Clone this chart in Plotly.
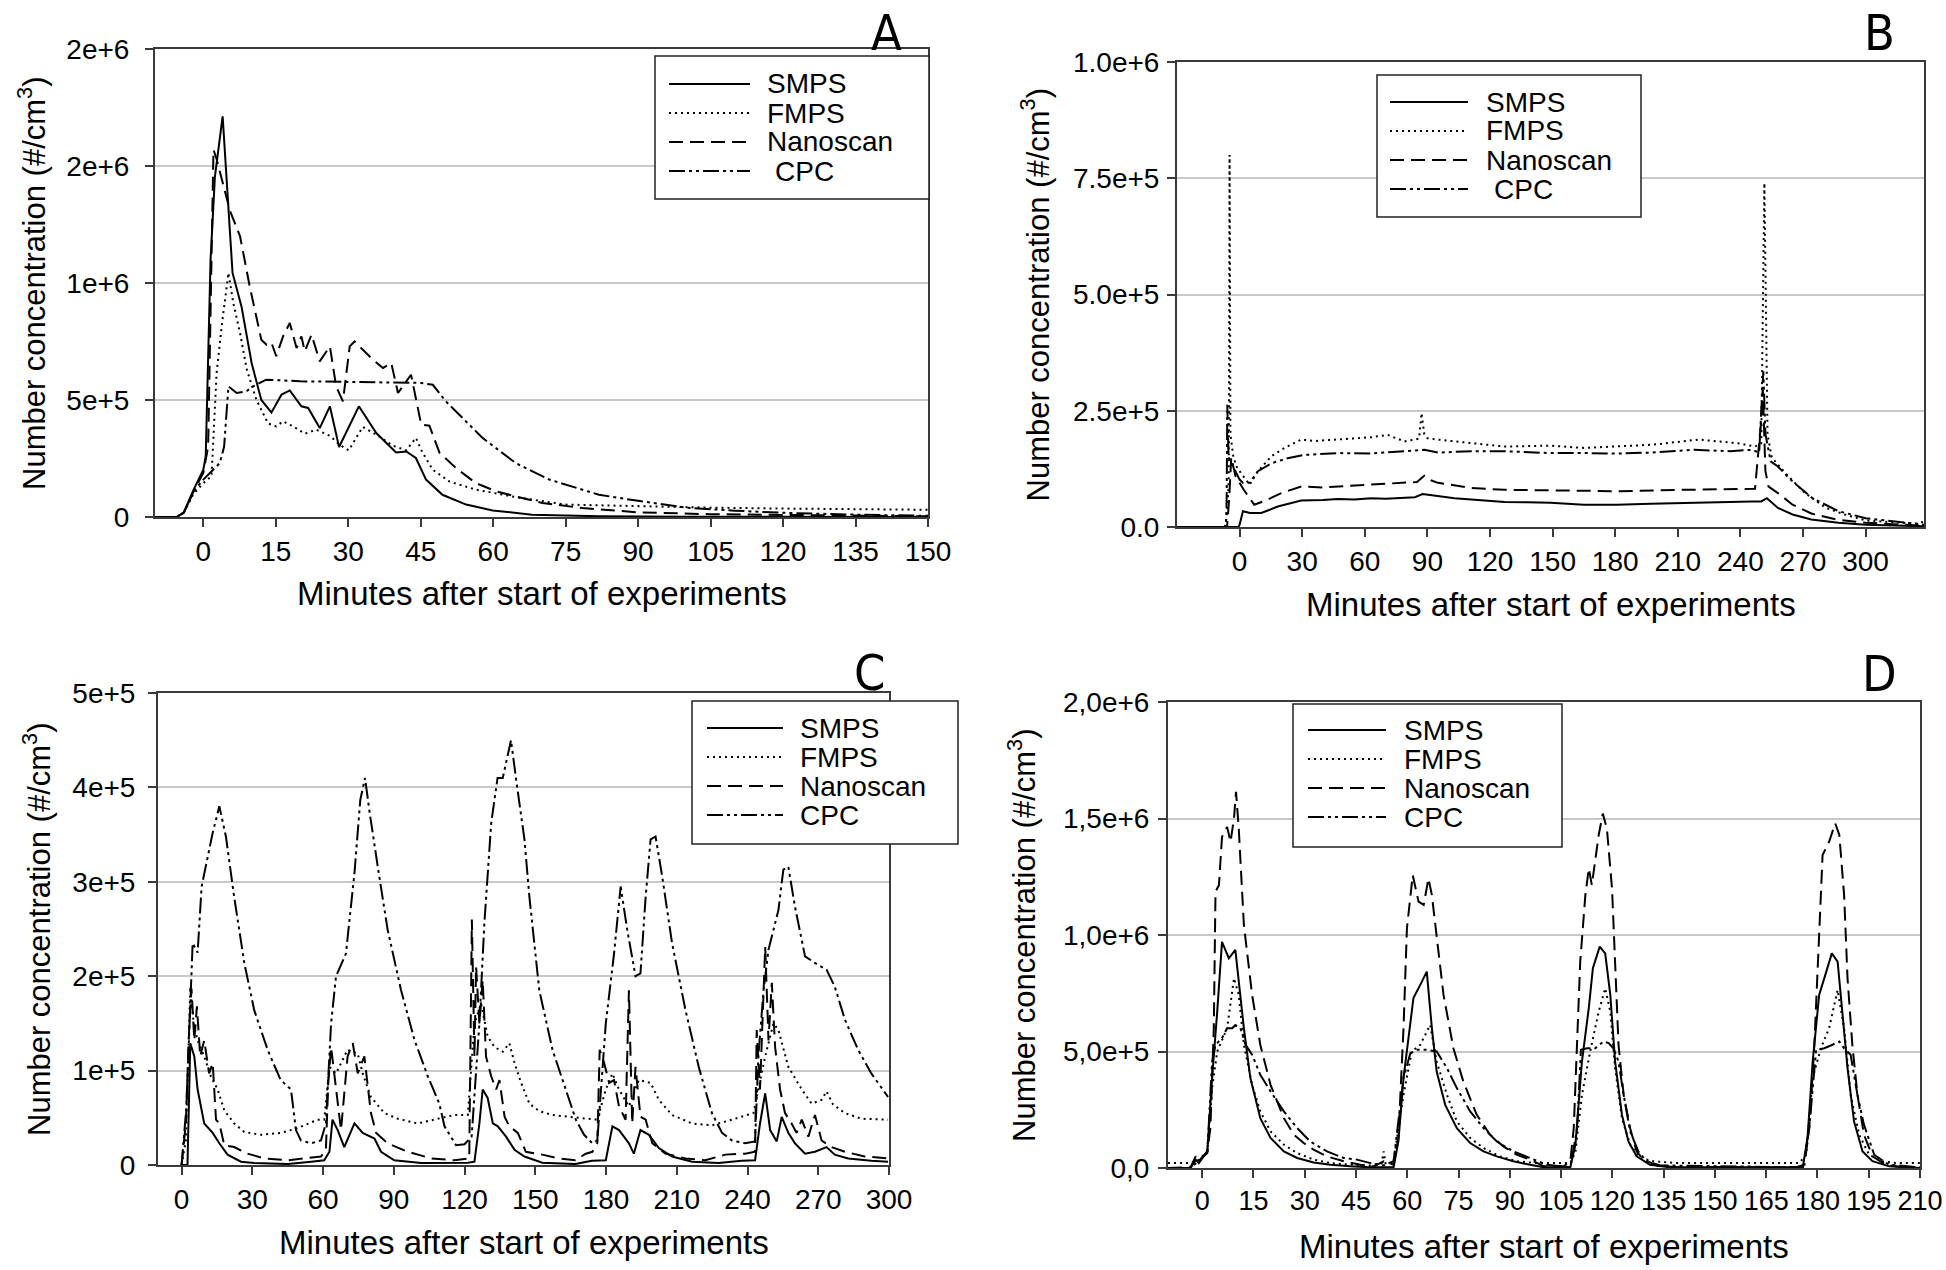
import plotly.graph_objects as go

W, H = 1946, 1270

# ---------------- DATA (concentrations in thousands of #/cm3) ----------------
# Panel A
A_SMPS_x = [-10, -5.5, -4.1, -2, 0, 0.5, 1.5, 2.4, 4.0, 6.05, 7.9, 10, 12, 14.1, 16.2, 17.9, 20.3, 21.7, 24.1, 26.2, 28.1, 32.2, 35.8, 39.9, 42, 44, 46.1, 49.5, 54.4, 59.9, 68, 82, 100, 120, 150]
A_SMPS_y = [0, 0, 17, 117, 202, 260, 1100, 1455, 1712, 1043, 900, 658, 500, 447, 523, 541, 473, 466, 380, 473, 299, 473, 359, 276, 280, 252, 160, 95, 53, 28, 10, 3, 1.5, 1, 0.5]
A_FMPS_x = [-10, -5.5, -4, -2, 0, 1.7, 2.75, 3.8, 5.2, 6.2, 7.6, 9, 11, 13.4, 15.1, 16.5, 18.6, 21, 23.4, 26.2, 28.2, 30.1, 33, 35.8, 39.2, 42, 44, 45.4, 47.5, 50.9, 56.4, 64.7, 75, 90, 105, 120, 135, 150]
A_FMPS_y = [0, 0, 20, 100, 145, 174, 615, 815, 1043, 915, 786, 630, 500, 400, 387, 409, 387, 356, 373, 347, 309, 285, 385, 352, 305, 285, 338, 274, 202, 152, 117, 85, 53, 45, 40, 36, 33, 31]
A_NANO_x = [-10, -5.5, -4, -2, 0, 1.0, 2.1, 2.75, 5.5, 7.6, 9.6, 12.0, 13.1, 14.1, 15.1, 16.5, 17.9, 19.3, 20.3, 21, 22.4, 24.1, 26.2, 27.5, 28.9, 30.3, 31.3, 33, 35.1, 37.2, 38.9, 40.3, 43, 45.1, 46.8, 48.9, 52.3, 56.4, 60.6, 64.7, 70.2, 78.5, 90, 105, 120, 150]
A_NANO_y = [0, 0, 20, 110, 188, 300, 1570, 1530, 1310, 1200, 986, 758, 736, 745, 687, 772, 829, 722, 772, 708, 779, 665, 729, 558, 494, 729, 750, 715, 672, 637, 658, 530, 608, 395, 390, 274, 209, 145, 110, 88, 60, 38, 20, 12, 8, 3]
A_CPC_x = [-10, -5.5, -4, -2, 0, 2, 3.4, 4.3, 5.2, 6.9, 8.9, 10.3, 13, 20, 30, 40, 45, 47.5, 50.2, 57.8, 64.7, 71.6, 81.9, 90, 100, 110, 120, 135, 150]
A_CPC_y = [0, 0, 20, 110, 160, 200, 230, 300, 558, 530, 537, 558, 587, 580, 578, 575, 573, 565, 494, 338, 230, 160, 95, 69, 40, 27, 18, 10, 5]

# Panel B
B_SMPS_x = [-30, -5, -0.5, 0, 1.6, 5, 10.4, 18.3, 29.5, 40, 47, 55, 63, 70, 79, 84, 87.7, 95, 103, 111, 119, 127, 138, 149, 165, 181, 197, 213, 229, 245.5, 250, 252.7, 258, 265, 274, 287, 300, 314, 328]
B_SMPS_y = [0, 0, 0, 5, 34, 30, 30, 44, 57, 58, 60, 59, 62, 61, 62, 64, 71, 66, 62, 59, 57, 54, 53, 52, 48, 48, 50, 52, 53, 55, 55, 62, 41, 27, 16, 9, 5, 3, 1.5]
B_FMPS_x = [-30, -7, -6, -5.2, -4.8, -4.4, -3, -1, 0, 4.8, 8.8, 15.2, 21.5, 29.5, 36, 47, 63, 71, 79, 86, 87.2, 88.5, 90, 95, 111, 127, 149, 165, 198, 220, 239, 247, 250, 251.5, 253, 255, 261.5, 271, 281, 290, 300, 318, 325, 328]
B_FMPS_y = [0, 0, 30, 100, 800, 200, 150, 125, 120, 91, 120, 152, 170, 188, 185, 188, 193, 198, 184, 190, 245, 200, 191, 188, 180, 173, 175, 170, 177, 188, 180, 173, 180, 740, 200, 150, 116, 73, 41, 27, 14, 9, 7, 12]
B_NANO_x = [-30, -6, -5, -4, -2, 0, 2, 7, 13, 20, 29.5, 40, 47, 63, 79, 85, 88.5, 92, 95, 111, 127, 149, 181, 213, 247, 250, 250.7, 252, 253.5, 258, 265, 274, 286, 300, 318, 328]
B_NANO_y = [0, 0, 60, 150, 110, 95, 80, 48, 58, 73, 87, 85, 87, 91, 95, 97, 110, 100, 95, 84, 80, 79, 77, 80, 82, 230, 300, 120, 87, 73, 48, 29, 16, 9, 5, 3]
B_CPC_x = [-30, -6.5, -6.2, -5.9, -5.3, -1.6, 0, 1.6, 4.8, 8.8, 15.2, 23, 31, 47, 63, 79, 88.5, 95, 111, 127, 149, 165, 181, 197, 218, 235, 245.5, 249, 251, 252, 254.5, 258, 264, 274.5, 287, 300, 318, 328]
B_CPC_y = [0, 0, 60, 263, 150, 116, 102, 95, 95, 120, 137, 148, 155, 159, 158, 163, 166, 160, 163, 163, 159, 159, 158, 160, 166, 163, 166, 160, 335, 200, 141, 130, 102, 62, 34, 19, 10, 5]

# Panel C
C_SMPS_x = [0, 2.5, 3.7, 5.4, 6.8, 9.6, 13.2, 16, 19.5, 25.2, 30.8, 45, 55, 60.5, 62.7, 64, 66.2, 69, 73.3, 76.8, 81.8, 84.6, 90.2, 101.6, 121.4, 124.2, 126.3, 127.7, 129.8, 132, 134.1, 137.6, 141.2, 145.4, 153, 160, 167, 174, 179.9, 182.7, 185.5, 187.6, 189.7, 191.8, 194.6, 198.2, 202.4, 208, 216.5, 227.7, 237.6, 243.2, 245.3, 247.5, 249.6, 252.4, 254.5, 257.3, 260.1, 264.4, 268.6, 273.5, 277, 282.7, 292.5, 299.6]
C_SMPS_y = [0, 0, 129, 115, 80, 44, 34, 23, 11, 3.5, 2, 1, 3.5, 5, 14, 48, 37, 19, 44, 34, 28, 14, 5, 2, 2.5, 3.5, 44, 80, 71, 44, 41, 30, 16, 9, 2.5, 2, 1, 4.5, 5, 41, 37, 30, 23, 12, 37, 32, 18, 9, 3.5, 2, 4.5, 5, 44, 76, 37, 25, 51, 34, 23, 12, 14, 19, 11, 7, 4.5, 3.5]
C_FMPS_x = [0, 1.8, 3.7, 5.1, 6.8, 9.6, 12.4, 15.3, 18.1, 22.3, 26.6, 33.7, 42.1, 49.2, 57.7, 60.5, 62.7, 65.5, 70.4, 74.7, 76.8, 80.3, 86, 91.7, 100.1, 108.6, 115.7, 121.4, 124.2, 127, 129.8, 132.7, 136.2, 139, 141.2, 144, 147.5, 151.7, 157.3, 164.4, 171.4, 176.3, 179.9, 182.7, 185.5, 189.7, 193.9, 198.9, 202.4, 208, 216.5, 224.9, 233.4, 242.5, 247.5, 251, 253.1, 257.3, 263, 267.2, 271.4, 273.5, 276.3, 281.3, 288.3, 299.6]
C_FMPS_y = [0, 26, 189, 150, 132, 115, 94, 80, 58, 44, 35, 32, 34, 39, 48, 48, 104, 97, 122, 118, 97, 72, 55, 49, 44, 49, 53, 53, 150, 171, 136, 125, 120, 129, 108, 87, 65, 57, 53, 51, 49, 48, 80, 97, 80, 62, 90, 87, 69, 53, 44, 42, 48, 55, 115, 150, 143, 104, 80, 65, 69, 78, 64, 55, 49, 48]
C_NANO_x = [0, 1.8, 3.3, 4.2, 5.4, 6.5, 7.9, 9.6, 11.7, 13.2, 14.6, 16, 18.1, 22.3, 28, 35, 45, 53.5, 59.1, 61.2, 62.2, 63.4, 65.5, 67.6, 70.4, 72.6, 74.7, 77.5, 80.3, 82.5, 87.4, 95.9, 105.8, 115.7, 122, 123.1, 124.2, 124.9, 126.3, 127.7, 129.1, 131.3, 133.4, 134.8, 137, 139, 142.6, 146, 153, 160, 167, 171.4, 174.2, 176.3, 177.3, 179.2, 181.3, 183.4, 185.5, 188.3, 189.7, 191.1, 192.5, 194.6, 196.8, 199.6, 205.2, 213.7, 222.1, 230.6, 239, 243.2, 243.9, 245.3, 247.5, 248.9, 250.3, 251.7, 253.8, 255.9, 258.7, 260.8, 263, 265.8, 268.6, 271.4, 275.6, 281.3, 289.7, 299.6]
C_NANO_y = [0, 44, 150, 187, 132, 168, 115, 132, 97, 108, 48, 44, 21, 19, 12, 7, 5, 7, 9, 16, 87, 125, 80, 37, 115, 129, 97, 115, 55, 34, 23, 14, 7, 5, 7, 260, 115, 210, 150, 196, 115, 94, 80, 90, 51, 41, 34, 14, 11, 7, 5, 12, 14, 23, 122, 108, 87, 90, 62, 48, 185, 44, 104, 51, 48, 23, 12, 7, 5, 11, 12, 14, 143, 80, 231, 132, 193, 125, 80, 55, 44, 34, 48, 30, 53, 26, 19, 14, 9, 7]
C_CPC_x = [0, 2, 4.7, 6.8, 8.5, 13.2, 16, 18.8, 22.3, 26.6, 30.8, 36.5, 42, 46.4, 48.5, 50.6, 54.9, 59.1, 61.2, 63.4, 65.5, 69.7, 73.3, 75.8, 77.8, 79.6, 83.2, 87.4, 93, 98.7, 104.4, 109.3, 111.5, 116.4, 120, 123, 126.3, 128.4, 131.3, 134, 136.2, 139.7, 141.9, 145.4, 147.5, 151.7, 157.3, 163, 167.2, 170.7, 174.2, 176.3, 179.9, 183.4, 186.2, 189, 192.5, 194.6, 196.8, 198.9, 201, 203.8, 208, 213.7, 219.3, 224.9, 229.2, 233.4, 239, 243.2, 244.6, 246.8, 248.9, 253.1, 255.2, 257.3, 260.1, 264.4, 268.6, 273.5, 277, 281.3, 286.9, 292.5, 299.6]
C_CPC_y = [0, 60, 235, 225, 295, 352, 380, 348, 284, 214, 164, 122, 90, 80, 37, 26, 23, 26, 44, 150, 200, 224, 309, 387, 410, 376, 316, 249, 186, 133, 94, 65, 41, 21, 22, 30, 150, 256, 362, 410, 410, 450, 408, 345, 284, 185, 122, 80, 48, 32, 23, 26, 150, 224, 295, 249, 200, 203, 284, 345, 348, 306, 235, 164, 104, 55, 34, 26, 23, 25, 115, 185, 228, 270, 313, 316, 274, 221, 214, 207, 189, 154, 122, 97, 72]

# Panel D
D_SMPS_x = [-10, -3.4, -1.9, -1, 1.5, 2.9, 4.4, 5.8, 7.8, 9.7, 12.2, 14.1, 17, 20, 23.9, 27.8, 32.6, 37.5, 43.3, 49.2, 56, 57.4, 58.9, 61.8, 63.8, 65.7, 67.2, 68.6, 71.1, 74.5, 78.4, 82.3, 86.2, 91, 95.9, 100, 107.7, 109.2, 111.1, 113.1, 114.3, 116.3, 117.9, 119.4, 120.8, 122.8, 124.7, 127.1, 131, 136.8, 175.7, 177.1, 178.6, 180.5, 182.3, 184.2, 185.9, 187.3, 188.8, 190.7, 193.2, 196.1, 201, 210]
D_SMPS_y = [0, 0, 36, 21, 71, 386, 671, 971, 900, 936, 600, 386, 214, 129, 71, 43, 24, 14, 7, 3, 3, 114, 386, 729, 786, 843, 600, 414, 271, 171, 107, 71, 50, 29, 14, 3, 3, 100, 457, 686, 857, 950, 921, 743, 457, 229, 114, 50, 14, 3, 3, 129, 457, 743, 829, 921, 886, 671, 429, 200, 71, 29, 7, 0]
D_FMPS_x = [-10, -3.4, -1.5, 1.5, 2.9, 4.4, 7.3, 9.3, 10.7, 12.2, 14.6, 17, 20, 23.9, 27.8, 32.6, 37.5, 43.3, 49.2, 52.5, 53.1, 53.7, 56, 58.9, 61.3, 63.8, 66.7, 68.6, 71.6, 74.5, 78.4, 82.3, 87.1, 92, 97.9, 107.7, 109.2, 111.1, 113.5, 116, 117.9, 119.4, 120.8, 122.8, 125.2, 128.1, 132, 138.8, 174.7, 176.7, 178.6, 181, 183.4, 185.9, 187.8, 189.7, 192.2, 195.1, 199, 202.9, 210]
D_FMPS_y = [21, 21, 29, 71, 343, 500, 600, 814, 743, 529, 357, 243, 157, 100, 64, 36, 21, 14, 11, 20, 71, 14, 29, 314, 500, 529, 614, 457, 314, 200, 129, 86, 50, 29, 21, 21, 71, 314, 500, 671, 771, 671, 429, 214, 100, 43, 29, 21, 21, 57, 386, 514, 600, 764, 600, 314, 143, 57, 29, 21, 21]
D_NANO_x = [-10, -3.4, -1.9, -1, 1.5, 2.4, 3.4, 3.9, 4.9, 5.8, 7.3, 8.3, 9.3, 9.9, 10.7, 12.2, 14.6, 17, 20, 23.9, 26.8, 29.7, 32.6, 36.5, 41.4, 46.3, 50.1, 53.1, 56, 57.4, 58.9, 59.9, 61.6, 63.3, 64.8, 66.2, 67.2, 68.6, 70.6, 73.5, 76.4, 80.3, 84.2, 88.1, 92, 95.9, 100, 105.8, 107.7, 108.7, 109.7, 110.6, 112.1, 113.1, 114, 116, 117.2, 118.4, 119.9, 120.8, 121.8, 123.3, 125.2, 127.1, 129.1, 133, 138.8, 158.2, 173.7, 176.2, 177.6, 179.1, 180.5, 181.5, 183.4, 185.2, 186.4, 187.8, 188.8, 190.2, 191.7, 193.6, 196.1, 200, 204.8, 210]
D_NANO_y = [0, 3, 50, 29, 71, 171, 600, 1186, 1214, 1421, 1464, 1400, 1500, 1614, 1457, 1043, 743, 529, 357, 214, 143, 107, 79, 50, 29, 14, 7, 29, 14, 129, 600, 1029, 1257, 1143, 1129, 1243, 1171, 986, 743, 514, 371, 229, 143, 93, 57, 36, 7, 7, 29, 171, 529, 886, 1171, 1286, 1214, 1429, 1521, 1457, 1200, 857, 529, 314, 171, 71, 36, 11, 3, 3, 3, 14, 171, 529, 1029, 1343, 1400, 1479, 1429, 1171, 814, 529, 314, 143, 50, 14, 3, 0]
D_CPC_x = [-10, -3.4, 1.5, 2.9, 3.9, 5.8, 7.3, 8.8, 9.7, 11.2, 12.7, 14.6, 17, 20, 23.9, 27.8, 31.6, 36.5, 41.4, 45.3, 49.2, 53.1, 56, 58.9, 60.9, 62.8, 65.7, 68.6, 71.6, 74.5, 78.4, 82.3, 86.2, 91, 95.9, 100.8, 107.7, 109.7, 110.8, 112.6, 115, 117.4, 118.9, 120.3, 121.8, 123.3, 125.2, 127.6, 130, 134, 175.7, 177.6, 179.6, 182, 184.4, 186.4, 187.8, 189.7, 191.7, 193.6, 196.6, 200.9, 210]
D_CPC_y = [0, 0, 64, 457, 529, 557, 600, 600, 614, 600, 529, 486, 400, 329, 243, 171, 114, 71, 43, 36, 21, 11, 29, 386, 493, 507, 507, 500, 429, 343, 243, 171, 114, 71, 43, 14, 3, 171, 507, 514, 514, 543, 536, 514, 457, 314, 157, 71, 29, 11, 3, 171, 507, 514, 529, 543, 514, 486, 314, 186, 57, 14, 3]

SERIES = ["SMPS", "FMPS", "Nanoscan", "CPC"]

# Tick values and labels
A_xticks = list(range(0, 151, 15))
A_yticks = [0, 5e5, 1e6, 1.5e6, 2e6]
A_yticklabels = ["0", "5e+5", "1e+6", "2e+6", "2e+6"]
B_xticks = list(range(0, 301, 30))
B_yticks = [0, 2.5e5, 5e5, 7.5e5, 1e6]
B_yticklabels = ["0.0", "2.5e+5", "5.0e+5", "7.5e+5", "1.0e+6"]
C_xticks = list(range(0, 301, 30))
C_yticks = [0, 1e5, 2e5, 3e5, 4e5, 5e5]
C_yticklabels = ["0", "1e+5", "2e+5", "3e+5", "4e+5", "5e+5"]
D_xticks = list(range(0, 211, 15))
D_yticks = [0, 5e5, 1e6, 1.5e6, 2e6]
D_yticklabels = ["0,0", "5,0e+5", "1,0e+6", "1,5e+6", "2,0e+6"]

# ---------------- STYLE ----------------
FONT = "Liberation Sans, Arial, Helvetica, sans-serif"
LETTER_FONT = "Liberation Sans Narrow, DejaVu Sans Condensed, Arial Narrow, sans-serif"
DASH = {"SMPS": "solid", "FMPS": "2px,4px", "Nanoscan": "14px,7px", "CPC": "16px,4px,3px,4px,3px,4px"}
AXC = "#3a3a3a"

def px(x):
    return x / W

def py(y):
    return 1 - y / H

panels = {
    "A": dict(ax="", dom_x=(155, 928), dom_y=(49, 517), xr=[-10, 150], yr=[0, 2e6],
              xt=A_xticks, yt=A_yticks, ytl=A_yticklabels,
              data=[(A_SMPS_x, A_SMPS_y), (A_FMPS_x, A_FMPS_y), (A_NANO_x, A_NANO_y), (A_CPC_x, A_CPC_y)],
              ytitle_x=32, xtitle_y=594, letter=(886, 2),
              leg=dict(box=(655, 56, 929, 199), lx=(669, 750), tx=765, rows=[84, 113, 142, 171], cpcpad=8),
              ystand=10, xfs=28),
    "B": dict(ax="2", dom_x=(1177, 1924), dom_y=(62, 527), xr=[-30, 328], yr=[0, 1e6],
              xt=B_xticks, yt=B_yticks, ytl=B_yticklabels,
              data=[(B_SMPS_x, B_SMPS_y), (B_FMPS_x, B_FMPS_y), (B_NANO_x, B_NANO_y), (B_CPC_x, B_CPC_y)],
              ytitle_x=1036, xtitle_y=604, letter=(1879, 2),
              leg=dict(box=(1377, 75, 1641, 217), lx=(1390, 1468), tx=1484, rows=[102, 131, 160, 189], cpcpad=8),
              ystand=2, xfs=28),
    "C": dict(ax="3", dom_x=(158, 889), dom_y=(693, 1165), xr=[-10, 300], yr=[0, 5e5],
              xt=C_xticks, yt=C_yticks, ytl=C_yticklabels,
              data=[(C_SMPS_x, C_SMPS_y), (C_FMPS_x, C_FMPS_y), (C_NANO_x, C_NANO_y), (C_CPC_x, C_CPC_y)],
              ytitle_x=37, xtitle_y=1242, letter=(869, 642),
              leg=dict(box=(692, 701, 958, 844), lx=(707, 783), tx=798, rows=[728, 757, 786, 815], cpcpad=0),
              ystand=7, xfs=28),
    "D": dict(ax="4", dom_x=(1168, 1920), dom_y=(702, 1168), xr=[-10, 210], yr=[0, 2e6],
              xt=D_xticks, yt=D_yticks, ytl=D_yticklabels,
              data=[(D_SMPS_x, D_SMPS_y), (D_FMPS_x, D_FMPS_y), (D_NANO_x, D_NANO_y), (D_CPC_x, D_CPC_y)],
              ytitle_x=1022, xtitle_y=1246, letter=(1879, 643),
              leg=dict(box=(1293, 704, 1562, 847), lx=(1308, 1386), tx=1402, rows=[730, 759, 788, 817], cpcpad=0),
              ystand=3, xfs=27),
}

fig = go.Figure()
shapes = []
annotations = []
layout_axes = {}

for name, p in panels.items():
    ax = p["ax"]
    for s, (xs, ys) in zip(SERIES, p["data"]):
        fig.add_trace(go.Scatter(
            x=xs, y=[v * 1000 for v in ys], mode="lines", name=s, showlegend=False,
            line=dict(color="black", width=2, dash=DASH[s]),
            xaxis="x" + ax, yaxis="y" + ax, hoverinfo="skip"))
    common = dict(showline=True, linecolor=AXC, linewidth=2, mirror=True,
                  ticks="outside", ticklen=8, tickwidth=1.5, tickcolor=AXC,
                  zeroline=False, automargin=False)
    layout_axes["xaxis" + ax] = dict(common, domain=[px(p["dom_x"][0]), px(p["dom_x"][1])],
                                     range=p["xr"], tickvals=p["xt"], showgrid=False,
                                     anchor="y" + ax, ticklabelstandoff=0,
                                     tickfont=dict(family=FONT, size=p["xfs"], color="black"))
    layout_axes["yaxis" + ax] = dict(common, domain=[py(p["dom_y"][1]), py(p["dom_y"][0])],
                                     range=p["yr"], tickvals=p["yt"], ticktext=p["ytl"],
                                     showgrid=True, gridcolor="#c8c8c8", gridwidth=2,
                                     anchor="x" + ax, ticklabelstandoff=p["ystand"],
                                     tickfont=dict(family=FONT, size=28, color="black"))
    cx = (p["dom_x"][0] + p["dom_x"][1]) / 2
    cy = (p["dom_y"][0] + p["dom_y"][1]) / 2
    annotations.append(dict(text="Number concentration (#/cm<sup>3</sup>)", x=px(p["ytitle_x"]), y=py(cy),
                            xref="paper", yref="paper", showarrow=False, textangle=-90,
                            xanchor="center", yanchor="middle",
                            font=dict(family=FONT, size=31, color="black")))
    annotations.append(dict(text="Minutes after start of experiments", x=px(cx), y=py(p["xtitle_y"]),
                            xref="paper", yref="paper", showarrow=False,
                            xanchor="center", yanchor="middle",
                            font=dict(family=FONT, size=33, color="black")))
    annotations.append(dict(text=name, x=px(p["letter"][0]), y=py(p["letter"][1]),
                            xref="paper", yref="paper", showarrow=False,
                            xanchor="center", yanchor="top",
                            font=dict(family=LETTER_FONT, size=50, color="black")))
    # legend box
    lg = p["leg"]
    x0, y0, x1, y1 = lg["box"]
    shapes.append(dict(type="rect", xref="paper", yref="paper", x0=px(x0), x1=px(x1), y0=py(y1), y1=py(y0),
                       line=dict(color="#222", width=1.5), fillcolor="white", layer="above"))
    for s, ry in zip(SERIES, lg["rows"]):
        shapes.append(dict(type="line", xref="paper", yref="paper", x0=px(lg["lx"][0]), x1=px(lg["lx"][1]),
                           y0=py(ry), y1=py(ry), line=dict(color="black", width=2, dash=DASH[s]), layer="above"))
        tx = lg["tx"] + (lg["cpcpad"] if s == "CPC" else 0)
        annotations.append(dict(text=s, x=px(tx), y=py(ry), xref="paper", yref="paper", showarrow=False,
                                xanchor="left", yanchor="middle",
                                font=dict(family=FONT, size=28, color="black")))

fig.update_layout(width=W, height=H, margin=dict(l=0, r=0, t=0, b=0),
                  paper_bgcolor="white", plot_bgcolor="white",
                  shapes=shapes, annotations=annotations, showlegend=False, **layout_axes)

fig.write_html("out.html", config={"displayModeBar": False},
               post_script="document.body.style.margin='0px';document.body.style.overflow='hidden';")
